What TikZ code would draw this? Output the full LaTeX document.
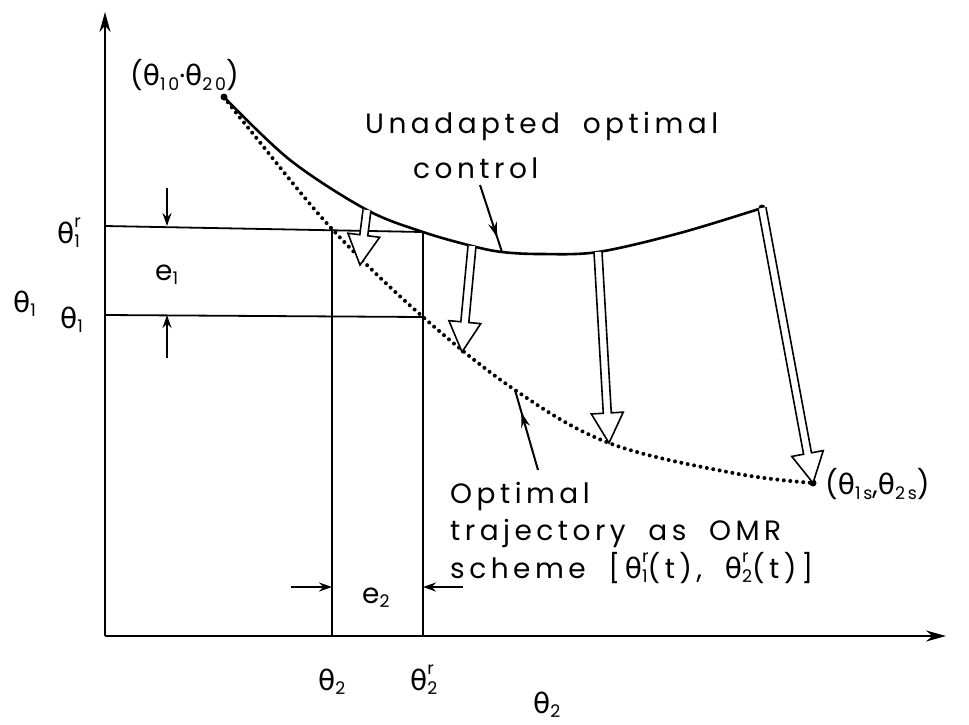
\documentclass[tikz,border=0pt]{standalone}
\usepackage{fontspec}
\usepackage{graphicx}
\setmainfont{Poppins}[LetterSpace=16,WordSpace=1.9]
\newfontfamily\gk{DejaVu Sans}
\usetikzlibrary{arrows.meta,calc,decorations.markings}
\newcommand\tht{{\gk θ}}
\newcommand\lo[1]{\raisebox{-0.3ex}{\scalebox{0.62}{#1}}}
\newcommand\hi[1]{\raisebox{1.0ex}{\scalebox{0.62}{#1}}}
\newcommand\thetaR[1]{\tht\makebox[0pt][l]{\hi{r}}\lo{#1}}
\newcommand\hollowarrow[2]{%
  \coordinate (#1-h) at ($(#2)!30pt!(#1)$);
  \filldraw[harrow] ($(#1)!4pt!90:(#2)$) -- ($(#1-h)!4pt!90:(#2)$) -- ($(#1-h)!16pt!90:(#2)$) -- (#2) -- ($(#1-h)!16pt!-90:(#2)$) -- ($(#1-h)!4pt!-90:(#2)$) -- ($(#1)!4pt!-90:(#2)$);
}
\tikzset{
  axis/.style={line width=2.4pt, -{Stealth[length=20pt,width=11pt]}},
  thin line/.style={line width=1.8pt},
  curve/.style={line width=2.6pt},
  dots/.style={line width=4pt, line cap=round, dash pattern=on 0pt off 6.5pt},
  harrow/.style={line width=1.6pt, fill=white, line join=miter},
  dimarrow/.style={line width=2pt, -{Stealth[length=13pt,width=9pt]}},
  leader/.style={line width=2pt, postaction={decorate}, decoration={markings, mark=at position #1 with {\arrow{Stealth[length=15pt,width=9pt]}}}},
  lbl/.style={font=\fontsize{28}{38}\selectfont, inner sep=0pt},
  enddot/.style={fill=black, inner sep=0pt, minimum size=7pt, circle}
}
\begin{document}
\begin{tikzpicture}[x=1pt,y=-1pt]
\useasboundingbox (0,0) rectangle (969,724);
% axes
\coordinate (O) at (105,636);
\coordinate (ytop) at (105,12);
\coordinate (xend) at (946,636);
\draw[axis] (O) -- (ytop);
\draw[axis] (O) -- (xend);
% key points
\coordinate (s0) at (224,97);
\coordinate (c1) at (367,210);
\coordinate (c2) at (472,246);
\coordinate (c3) at (598,252);
\coordinate (c4) at (762,208);
\coordinate (cl) at (502,252);
\coordinate (r1) at (423,232);
\coordinate (q1) at (332,229);
\coordinate (q2) at (423,317);
\coordinate (d1) at (360,265);
\coordinate (d2) at (462,352);
\coordinate (d3) at (609,443);
\coordinate (d4) at (813,483);
\coordinate (dl) at (515,390);
% reference lines
\draw[thin line] (105,226) -- (r1);
\draw[thin line] (105,315) -- (q2);
\draw[thin line] (q1) -- (332,636);
\draw[thin line] (r1) -- (423,636);
% curves
\draw[curve] plot[smooth, tension=0.55] coordinates {(s0) (290,160) (c1) (r1) (c2) (cl) (540,254) (c3) (680,233) (c4)};
\draw[dots] plot[smooth, tension=0.6] coordinates {(s0) (250,130) (q1) (q2) (dl) (d3) (733,473) (d4)};
\node[enddot] (e0) at (s0) {};
\node[enddot] (e4) at (c4) {};
\node[enddot] (ed) at (d4) {};
% hollow arrows
\hollowarrow{c1}{d1}
\hollowarrow{c2}{d2}
\hollowarrow{c3}{d3}
\hollowarrow{c4}{d4}
% dimension arrows
\coordinate (t1) at (167,188); \coordinate (t1e) at (167,226);
\coordinate (t2) at (167,358); \coordinate (t2e) at (167,315);
\coordinate (u1) at (291,587); \coordinate (u1e) at (332,587);
\coordinate (u2) at (463,587); \coordinate (u2e) at (423,587);
\draw[dimarrow] (t1) -- (t1e);
\draw[dimarrow] (t2) -- (t2e);
\draw[dimarrow] (u1) -- (u1e);
\draw[dimarrow] (u2) -- (u2e);
% leaders
\coordinate (lu) at (480,185);
\coordinate (lo) at (538,470);
\draw[leader=0.78] (lu) -- (cl);
\draw[leader=0.72] (lo) -- (dl);
% labels
\node[lbl, anchor=west] (start) at (130,75) {(\tht\lo{10}·\tht\lo{20})};
\node[lbl, anchor=base west] (ul1) at (365,133) {Unadapted optimal};
\node[lbl, anchor=base west] (ul2) at (413,178) {control};
\node[lbl, anchor=base west] (th1r) at (57,243) {\thetaR{1}};
\node[lbl, anchor=base west] (e1) at (155,280) {e\lo{1}};
\node[lbl, anchor=base west] (th1big) at (13,312) {\tht\lo{1}};
\node[lbl, anchor=base west] (th1) at (60,328) {\tht\lo{1}};
\node[lbl, anchor=base west] (e2) at (362,603) {e\lo{2}};
\node[lbl, anchor=base west] (th2) at (318,690) {\tht\lo{2}};
\node[lbl, anchor=base west] (th2r) at (410,690) {\thetaR{2}};
\node[lbl, anchor=base west] (th2ax) at (533,713) {\tht\lo{2}};
\node[lbl, anchor=west] (send) at (825,484) {(\tht\lo{1s},\tht\lo{2s})};
\node[lbl, anchor=base west] (ol1) at (450,503) {Optimal};
\node[lbl, anchor=base west] (ol2) at (450,540) {trajectory as OMR};
\node[lbl, anchor=base west] (ol3) at (450,578) {scheme [\,\thetaR{1}(t), \thetaR{2}(t)\,]};
\end{tikzpicture}
\end{document}
